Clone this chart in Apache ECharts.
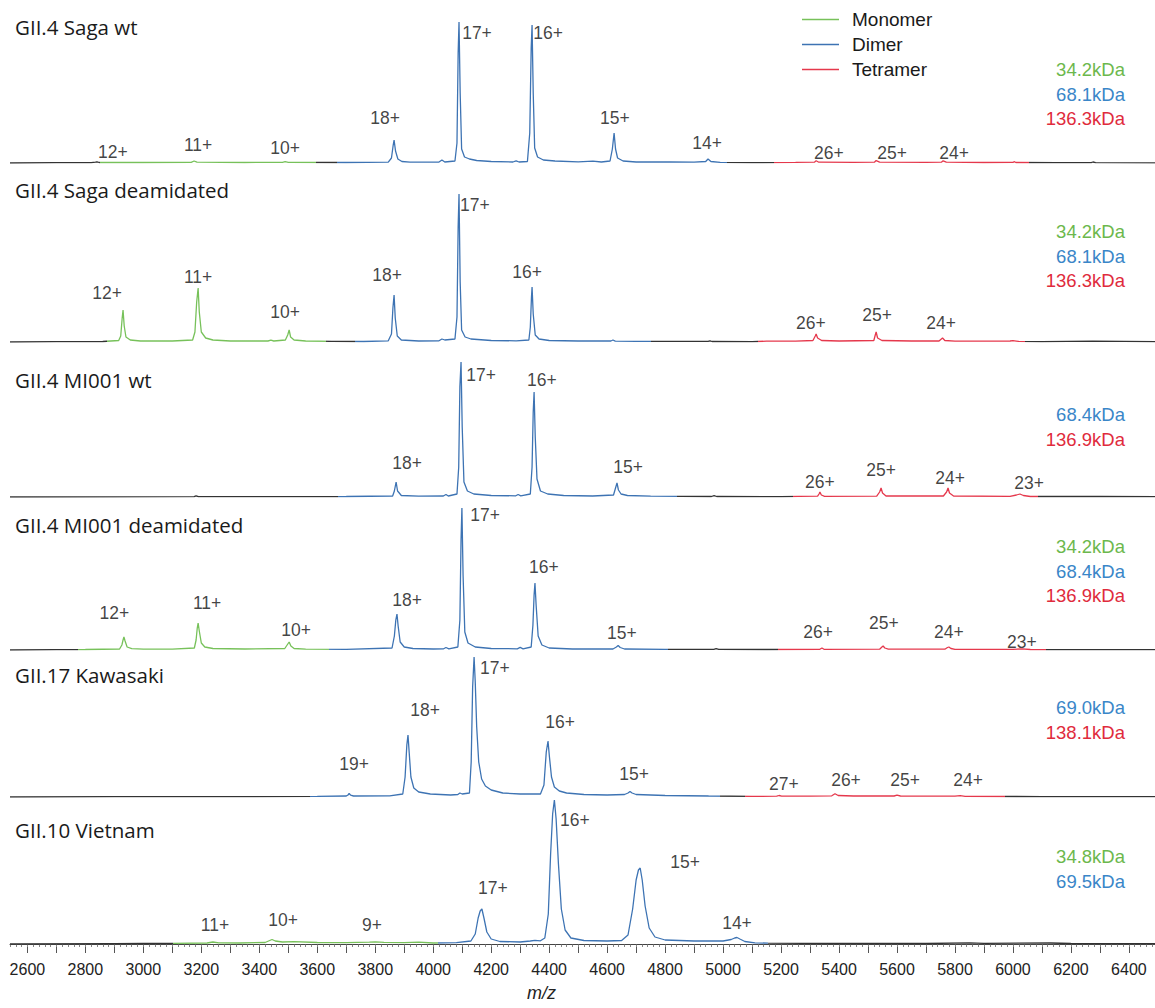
<!DOCTYPE html>
<html><head><meta charset="utf-8">
<script src="https://cdn.jsdelivr.net/npm/echarts@6/dist/echarts.min.js"></script>
<style>html,body{margin:0;padding:0;background:#fff}#c{width:1155px;height:1008px}</style>
</head><body><div id="c"></div>
<script>
// ---------- DATA ----------
const tickLabels = [2600,2800,3000,3200,3400,3600,3800,4000,4200,4400,4600,4800,5000,5200,5400,5600,5800,6000,6200,6400];
const panelNames = ['GII.4 Saga wt','GII.4 Saga deamidated','GII.4 MI001 wt','GII.4 MI001 deamidated','GII.17 Kawasaki','GII.10 Vietnam'];
const legendNames = ['Monomer','Dimer','Tetramer'];

const sagaWt = [[2540,0],[2700,0.3],[2820,0.3],[2835,0.8],[2840,1.2],[2848,0.5],[3000,0.5],[3165,0.6],[3175,2],[3185,0.8],[3350,0.5],[3480,0.7],[3489,1.3],[3500,0.6],[3700,0.5],[3845,0.8],[3856,5],[3862,18],[3865,23],[3870,12],[3878,4],[3892,1.5],[3920,0.8],[4020,1],[4030,3],[4040,1],[4075,2],[4082,20],[4086,110],[4089,141],[4093,70],[4098,14],[4108,6],[4125,4],[4150,2.5],[4200,1.5],[4275,1],[4286,2.2],[4296,1],[4325,1.5],[4333,30],[4338,115],[4341,138],[4345,70],[4350,15],[4360,6],[4380,3],[4420,2],[4500,1.2],[4551,1.8],[4580,1],[4610,2],[4618,14],[4624,30],[4629,14],[4636,5],[4655,2],[4700,1],[4817,1.2],[4900,0.8],[4940,1.5],[4948,4],[4958,1.5],[4990,0.6],[5100,0.4],[5250,0.6],[5315,0.8],[5321,2.2],[5330,0.8],[5450,0.6],[5522,0.8],[5528,2.4],[5540,0.8],[5700,0.6],[5753,0.8],[5759,2.2],[5770,0.8],[5900,0.5],[6000,0.6],[6004,1.3],[6010,0.5],[6150,0.3],[6270,0.4],[6276,1],[6285,0.3],[6490,0.2]];
const sagaDeam = [[2540,0],[2700,0.3],[2860,0.5],[2915,1.5],[2922,6],[2927,24],[2930,32],[2934,16],[2940,5],[2955,2],[2990,1],[3100,1],[3170,2],[3178,10],[3184,40],[3189,54],[3193,30],[3200,10],[3215,4],[3240,2],[3300,1],[3430,1],[3440,1.8],[3450,1],[3490,2],[3498,7],[3503,12],[3508,5],[3520,2],[3560,1],[3650,0.6],[3760,0.5],[3845,1.2],[3856,8],[3861,34],[3865,47],[3869,24],[3876,6],[3890,2],[3950,1],[4020,1.2],[4030,3],[4040,2],[4075,3],[4082,25],[4086,115],[4089,148],[4093,60],[4098,12],[4110,5],[4130,3],[4200,1.5],[4286,1.2],[4330,2],[4335,15],[4339,45],[4341,55],[4345,28],[4352,7],[4365,3],[4400,1.5],[4500,1],[4613,1],[4620,2],[4628,0.8],[4700,0.6],[4948,0.6],[4955,1.2],[4962,0.5],[5100,0.4],[5150,0.8],[5250,0.8],[5310,1.5],[5318,6],[5321,8],[5326,4],[5340,1.5],[5400,1],[5520,1.5],[5525,7],[5528,10],[5533,4],[5548,1.5],[5650,1],[5745,1],[5753,3],[5757,4],[5765,1.5],[5800,0.8],[5990,1],[6000,1.3],[6020,0.6],[6100,0.4],[6276,0.8],[6490,0.3]];
const mi001Wt = [[2540,0],[2900,0.2],[3175,0.4],[3182,1.2],[3190,0.4],[3500,0.3],[3700,0.5],[3860,1],[3866,6],[3872,15],[3877,6],[3890,1.5],[3950,0.8],[4035,1],[4044,2.5],[4052,1],[4082,3],[4088,30],[4092,110],[4096,135],[4100,70],[4106,15],[4118,6],[4140,3],[4200,1.5],[4285,1.2],[4293,2.5],[4302,1.2],[4335,3],[4341,30],[4345,85],[4348,105],[4352,60],[4358,18],[4370,6],[4395,3],[4450,1.5],[4550,1],[4622,2],[4628,8],[4634,14],[4639,7],[4648,3],[4670,1.5],[4750,0.8],[4960,0.5],[4969,1.3],[4978,0.5],[5200,0.3],[5326,0.8],[5331,3],[5334,5],[5339,2],[5350,0.7],[5530,0.8],[5540,5],[5545,9],[5550,4],[5562,1],[5760,1],[5771,5],[5776,9],[5781,4],[5795,1],[5990,0.6],[6012,2],[6024,3],[6036,1.5],[6060,0.5],[6300,0.5],[6490,0.3]];
const mi001Deam = [[2540,0],[2700,0.3],[2800,0.5],[2918,1],[2926,5],[2930,10],[2933,13],[2937,9],[2944,3],[2960,1.3],[3000,0.8],[3100,0.8],[3176,2],[3182,10],[3186,22],[3189,27],[3193,19],[3200,7],[3212,3],[3240,1.5],[3350,1],[3488,1.5],[3496,5],[3503,8],[3509,4],[3520,1.5],[3560,0.8],[3700,0.6],[3858,2],[3866,14],[3871,30],[3875,36],[3879,24],[3886,8],[3900,3],[3930,1.5],[4000,1],[4036,1.2],[4044,2.5],[4054,1.2],[4085,3],[4092,30],[4096,110],[4099,142],[4103,75],[4109,18],[4120,7],[4145,3],[4200,1.5],[4290,1.2],[4300,2.6],[4310,1.2],[4338,3],[4344,25],[4348,55],[4351,67],[4355,45],[4362,14],[4375,5],[4400,2],[4480,1],[4620,1],[4632,3],[4638,4.5],[4645,2.5],[4660,1],[4800,0.6],[4968,0.6],[4976,1.3],[4985,0.6],[5150,0.5],[5334,0.7],[5341,2],[5348,0.7],[5540,0.8],[5548,3],[5552,4],[5558,2],[5570,0.8],[5765,0.8],[5774,2.5],[5779,3],[5786,1.5],[5800,0.6],[6000,0.6],[6031,1.2],[6060,0.5],[6490,0.3]];
const kawasaki = [[2540,0],[2900,0.3],[3300,0.4],[3600,0.6],[3700,1],[3706,2],[3710,3.5],[3715,1.8],[3725,1],[3850,1.2],[3895,3],[3903,20],[3909,52],[3913,62],[3917,45],[3923,20],[3933,9],[3950,5],[3990,3],[4060,2],[4085,2.5],[4092,4],[4100,3],[4125,4],[4131,35],[4136,110],[4141,140],[4145,115],[4150,70],[4157,35],[4167,18],[4180,11],[4200,7],[4240,4],[4300,3],[4370,3],[4382,12],[4390,45],[4396,56],[4401,40],[4408,20],[4418,10],[4435,6],[4460,4],[4520,2.5],[4600,2],[4660,2.5],[4672,4],[4679,5.5],[4686,4],[4700,2.5],[4800,1.5],[4950,1],[5100,0.6],[5185,0.8],[5193,1.5],[5202,0.8],[5300,0.8],[5375,1.2],[5386,3.2],[5397,1.5],[5450,1],[5590,1],[5600,1.8],[5612,1],[5800,0.8],[5818,1.3],[5835,0.7],[6100,0.4],[6490,0.3]];
const vietnam = [[2540,0],[2900,0.4],[3000,0.5],[3100,0.7],[3220,1],[3240,2],[3260,1.2],[3330,1],[3420,1.5],[3436,3.5],[3444,4.5],[3455,3],[3480,2],[3520,2.4],[3600,1.5],[3700,1.3],[3780,1.8],[3800,2.2],[3830,1.6],[3900,1.3],[3950,1.8],[4000,1],[4080,1.3],[4130,3],[4145,10],[4155,26],[4162,33],[4168,35],[4175,26],[4185,12],[4200,5],[4230,2.5],[4300,2],[4335,3],[4351,3.6],[4370,3.2],[4385,6],[4397,30],[4405,90],[4412,130],[4418,144],[4424,125],[4432,80],[4442,35],[4455,14],[4475,6],[4520,3.5],[4600,3],[4650,3.5],[4672,9],[4688,35],[4700,64],[4708,74],[4714,76],[4721,64],[4731,38],[4745,16],[4765,7],[4800,4],[4900,3],[5000,3],[5028,4.5],[5040,6],[5048,6.5],[5058,5],[5075,2.5],[5110,1.2],[5155,0.8],[5400,0.5],[5700,0.5],[5850,1.2],[5900,0.6],[6130,1],[6200,0.5],[6490,0.3]];
const spectra = [sagaWt, sagaDeam, mi001Wt, mi001Deam, kawasaki, vietnam];

// m/z ranges assigned to each oligomer (null = not present)
const monomerRange = [[2850,3596],[2875,3630],null,[2775,3640],null,[3102,4017]];
const dimerRange   = [[3668,5014],[3730,4751],[3672,4841],[3640,4810],[3575,4990],[4017,5155]];
const tetramerRange= [[5176,6056],[5121,6042],[5241,6087],[5190,6114],[5076,5973],null];

// charge-state annotations: [m/z, height, label]
const sagaWtLabels = [[2895,11,'12+'],[3189,18,'11+'],[3489,15,'10+'],[3834,45,'18+'],[4151,130,'17+'],[4396,130,'16+'],[4627,45,'15+'],[4945,20,'14+'],[5365,10,'26+'],[5583,10,'25+'],[5797,10,'24+']];
const sagaDeamLabels = [[2875,49,'12+'],[3189,65,'11+'],[3489,30,'10+'],[3841,67,'18+'],[4144,137,'17+'],[4324,70,'16+'],[5303,19,'26+'],[5531,27,'25+'],[5752,19,'24+']];
const mi001WtLabels = [[3910,34,'18+'],[4165,122,'17+'],[4375,117,'16+'],[4672,30,'15+'],[5334,15,'26+'],[5545,27,'25+'],[5783,19,'24+'],[6056,14,'23+']];
const mi001DeamLabels = [[2900,37,'12+'],[3220,47,'11+'],[3527,20,'10+'],[3910,50,'18+'],[4179,135,'17+'],[4382,83,'16+'],[4651,17,'15+'],[5328,18,'26+'],[5555,27,'25+'],[5779,18,'24+'],[6031,8,'23+']];
const kawasakiLabels = [[3727,33,'19+'],[3972,87,'18+'],[4213,129,'17+'],[4438,75,'16+'],[4693,23,'15+'],[5210,13,'27+'],[5424,17,'26+'],[5628,17,'25+'],[5845,17,'24+']];
const vietnamLabels = [[3247,19,'11+'],[3482,24,'10+'],[3789,19,'9+'],[4206,56,'17+'],[4489,124,'16+'],[4869,82,'15+'],[5048,21,'14+']];
const peakLabels = [sagaWtLabels, sagaDeamLabels, mi001WtLabels, mi001DeamLabels, kawasakiLabels, vietnamLabels];

// deconvoluted masses: [kDa text, oligomer index 0=mono 1=dimer 2=tetra]
const massLabels = [
  [['34.2kDa',0],['68.1kDa',1],['136.3kDa',2]],
  [['34.2kDa',0],['68.1kDa',1],['136.3kDa',2]],
  [['68.4kDa',1],['136.9kDa',2]],
  [['34.2kDa',0],['68.4kDa',1],['136.9kDa',2]],
  [['69.0kDa',1],['138.1kDa',2]],
  [['34.8kDa',0],['69.5kDa',1]]
];

// ---------- LAYOUT / STYLE ----------
const X_MIN = 2540, X_MAX = 6490;
const baselines = [163, 342, 497, 650, 797, 944];
const titleY = [30, 193, 383, 528, 678, 833];
const massTopY = [70, 232, 415, 547, 708, 857];
const lineColors = ['#77c15a', '#3d73b3', '#e5384c'];
const textColors = ['#6cb84c', '#3a86c8', '#e02b3c'];
const baseColor = '#333333';
const PANEL_H = 150;

const chart = echarts.init(document.getElementById('c'), null, {renderer: 'svg'});

const grids = [], xAxes = [], yAxes = [], series = [], visualMaps = [], graphics = [];
for (let i = 0; i < 6; i++) {
  grids.push({left: 10, width: 1145, top: baselines[i] - PANEL_H, height: PANEL_H});
  const last = i === 5;
  xAxes.push({
    type: 'value', gridIndex: i, min: X_MIN, max: X_MAX, interval: 20,
    show: last, offset: 3,
    axisLine: {show: true, lineStyle: {color: '#444', width: 1}},
    axisTick: {show: true, length: 3, lineStyle: {color: '#666', width: 0.8}},
    axisLabel: {show: true, customValues: tickLabels, formatter: v => String(v), fontFamily: 'Liberation Sans', fontSize: 16, color: '#222', margin: 14},
    splitLine: {show: false}
  });
  yAxes.push({type: 'value', gridIndex: i, min: 0, max: PANEL_H, show: false, splitLine: {show: false}});
}
// extra axis for longer ticks every 100
const majorTicks = [];
for (let v = 2600; v <= 6400; v += 100) majorTicks.push(v);
xAxes.push({
  type: 'value', gridIndex: 5, min: X_MIN, max: X_MAX, position: 'bottom', offset: 3,
  axisLine: {show: false}, axisLabel: {show: false}, splitLine: {show: false},
  axisTick: {show: true, length: 6, customValues: majorTicks, lineStyle: {color: '#555', width: 1}}
});

for (let i = 0; i < 6; i++) {
  series.push({
    type: 'line', xAxisIndex: i, yAxisIndex: i, data: spectra[i], showSymbol: false, symbol: 'none',
    lineStyle: {width: 1.3}, silent: true, animation: false, z: 3
  });
  const pieces = [];
  [monomerRange[i], dimerRange[i], tetramerRange[i]].forEach((r, k) => {
    if (r) pieces.push({gte: r[0], lt: r[1], color: lineColors[k]});
  });
  visualMaps.push({type: 'piecewise', show: false, seriesIndex: i, dimension: 0, pieces: pieces, outOfRange: {color: baseColor}});
}
for (let i = 0; i < 6; i++) {
  series.push({
    type: 'scatter', xAxisIndex: i, yAxisIndex: i, data: peakLabels[i], symbolSize: 0, silent: true, animation: false,
    label: {show: true, position: 'inside', formatter: p => p.value[2], fontFamily: 'Liberation Sans', fontSize: 17.5, color: '#111'}
  });
}
legendNames.forEach((n, k) => {
  series.push({type: 'line', name: n, xAxisIndex: 0, yAxisIndex: 0, data: [], symbol: 'none', lineStyle: {color: lineColors[k], width: 1.5}, itemStyle: {color: lineColors[k]}});
});

for (let i = 0; i < 6; i++) {
  graphics.push({type: 'text', left: 15, top: titleY[i] - 14, style: {text: panelNames[i], font: '20.5px "Open Sans"', fill: '#1a1a1a'}});
  massLabels[i].forEach((m, j) => {
    graphics.push({type: 'text', right: 30, top: massTopY[i] + j * 24.5 - 10, style: {text: m[0], font: '18.5px "Liberation Sans"', fill: textColors[m[1]], textAlign: 'right'}});
  });
}
graphics.push({type: 'text', left: 527, top: 984, style: {text: 'm/z', font: 'italic 18px "Liberation Sans"', fill: '#222'}});

chart.setOption({
  animation: false,
  backgroundColor: '#fff',
  grid: grids, xAxis: xAxes, yAxis: yAxes, visualMap: visualMaps, series: series,
  legend: {data: legendNames.map(n => ({name: n, icon: 'rect'})), orient: 'vertical', left: 797, top: 5, itemWidth: 37, itemHeight: 1.6, itemGap: 6,
    textStyle: {fontFamily: 'Liberation Sans', fontSize: 19, color: '#1a1a1a', padding: [0, 0, 0, 8]}},
  graphic: graphics
});
</script></body></html>
